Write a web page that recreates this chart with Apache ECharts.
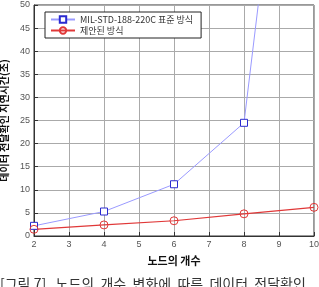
<!DOCTYPE html>
<html>
<head>
<meta charset="utf-8">
<script src="https://cdn.jsdelivr.net/npm/echarts@6/dist/echarts.min.js"></script>
<style>
  html, body { margin: 0; padding: 0; background: #fff; }
  #chart { width: 319px; height: 287px; }
</style>
</head>
<body>
<div id="chart"></div>
<script>
// 노드 수
const nodes = [2, 4, 6, 8, 10];
// MIL-STD-188-220C 표준 방식 (10 노드 값은 그래프 밖으로 나감)
const stdDelay = [2.2, 5.3, 11.2, 24.5, 150];
// 제안된 방식
const proposedDelay = [1.45, 2.4, 3.3, 4.8, 6.2];

const seriesNames = ['MIL-STD-188-220C 표준 방식', '제안된 방식'];
const fontKr = '"Noto Sans CJK KR", "Noto Sans", sans-serif';

const chart = echarts.init(document.getElementById('chart'));

const option = {
  backgroundColor: '#fff',
  animation: false,
  grid: {
    left: 34, right: 5, top: 5, bottom: 51,
    outerBoundsMode: 'none',
    containLabel: false,
    show: true,
    borderColor: '#333',
    borderWidth: 1
  },
  legend: {
    left: 45, top: 12,
    orient: 'vertical',
    backgroundColor: '#fff',
    borderColor: '#222',
    borderWidth: 1,
    borderRadius: 0,
    padding: [3, 8, 3, 5],
    itemGap: 2,
    itemWidth: 24,
    itemHeight: 8,
    textStyle: { fontFamily: fontKr, fontSize: 9, color: '#333' },
    data: seriesNames
  },
  xAxis: {
    type: 'value',
    min: 2, max: 10, interval: 1,
    name: '노드의 개수',
    nameLocation: 'middle',
    nameGap: 19,
    nameTextStyle: { fontFamily: fontKr, fontSize: 11, fontWeight: 'bold', color: '#111' },
    axisLine: { lineStyle: { color: '#333' } },
    axisTick: { inside: true, length: 4, lineStyle: { color: '#333' } },
    axisLabel: { fontSize: 9, color: '#555', margin: 4, fontFamily: 'Arial, sans-serif' },
    splitLine: { show: true, lineStyle: { color: '#aaa', width: 1 } }
  },
  yAxis: {
    type: 'value',
    min: 0, max: 50, interval: 5,
    name: '데이터 전달확인 지연시간(초)',
    nameLocation: 'middle',
    nameRotate: 90,
    nameGap: 24,
    nameTextStyle: { fontFamily: fontKr, fontSize: 10, fontWeight: 'bold', color: '#111' },
    axisLine: { show: true, lineStyle: { color: '#333' } },
    axisTick: { show: true, inside: true, length: 4, lineStyle: { color: '#333' } },
    axisLabel: { fontSize: 9, color: '#555', margin: 4, fontFamily: 'Arial, sans-serif' },
    splitLine: { show: true, lineStyle: { color: '#aaa', width: 1 } }
  },
  series: [
    {
      name: seriesNames[0],
      type: 'line',
      data: nodes.map((n, i) => [n, stdDelay[i]]),
      clip: true,
      symbol: 'rect',
      symbolSize: 7,
      lineStyle: { color: '#9a9aff', width: 1 },
      itemStyle: { color: '#fff', borderColor: '#2a2ad0', borderWidth: 1 },
      emphasis: { disabled: true }
    },
    {
      name: seriesNames[1],
      type: 'line',
      data: nodes.map((n, i) => [n, proposedDelay[i]]),
      clip: true,
      symbol: 'circle',
      symbolSize: 8,
      lineStyle: { color: '#e03838', width: 1.2 },
      itemStyle: { color: 'rgba(255,255,255,0)', borderColor: '#e03838', borderWidth: 1 },
      emphasis: { disabled: true }
    }
  ],
  graphic: [
    {
      type: 'text',
      left: 0, top: 277,
      style: {
        text: '[그림 7]   노드의  개수  변화에  따른  데이터  전달확인',
        fontFamily: fontKr,
        fontSize: 14,
        fill: '#333'
      }
    }
  ]
};

chart.setOption(option);
</script>
</body>
</html>
